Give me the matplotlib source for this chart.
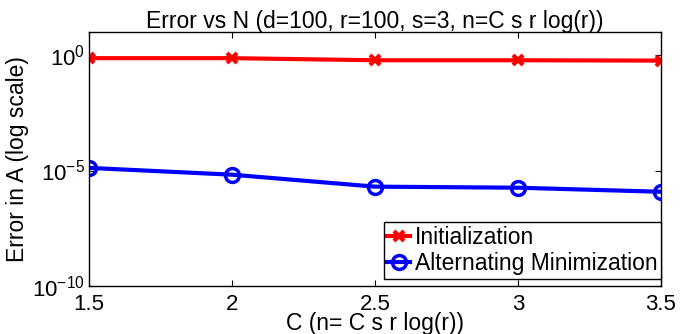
import numpy as np
import matplotlib
matplotlib.use("Agg")
import matplotlib.pyplot as plt

plt.rcParams["font.family"] = ["Liberation Sans", "DejaVu Sans"]
plt.rcParams["mathtext.fontset"] = "custom"
plt.rcParams["mathtext.rm"] = "Liberation Sans"
plt.rcParams["mathtext.it"] = "Liberation Sans:italic"

C_VALUES = [1.5, 2.0, 2.5, 3.0, 3.5]
INIT_ERR = [0.74, 0.74, 0.60, 0.60, 0.58]
ALTMIN_ERR = [1.3e-5, 6.6e-6, 2.0e-6, 1.8e-6, 1.2e-6]
Y_TICKS = [1e-10, 1e-5, 1e0]
Y_TICK_LABELS = [r"$10^{-10}$", r"$10^{-5}$", r"$10^{0}$"]

fig = plt.figure(figsize=(6.8, 3.34), dpi=100)
ax = fig.add_axes([0.131, 0.144, 0.841, 0.760])

ax.plot(C_VALUES, INIT_ERR, color="red", lw=3, marker="x", ms=7, mew=3,
        label="Initialization")
ax.plot(C_VALUES, ALTMIN_ERR, color="blue", lw=3, marker="o", ms=10, mew=2.5,
        mfc="none", label="Alternating Minimization")

ax.set_yscale("log")
ax.set_ylim(1e-10, 10)
ax.set_xlim(1.5, 3.5)
ax.set_xticks(C_VALUES)
ax.set_xticklabels(["1.5", "2", "2.5", "3", "3.5"])
ax.set_yticks(Y_TICKS)
ax.set_yticklabels(Y_TICK_LABELS)
ax.minorticks_off()
ax.tick_params(direction="in", top=True, right=True, labelsize=16, length=4)
ax.tick_params(axis="x", pad=6)
ax.tick_params(axis="y", pad=3)
for sp in ax.spines.values():
    sp.set_linewidth(1.0)

ax.set_title("Error vs N (d=100, r=100, s=3, n=C s r log(r))", fontsize=16.5, pad=3)
ax.set_xlabel("C (n= C s r log(r))", fontsize=16.5, labelpad=-2)
ax.set_ylabel("Error in A (log scale)", fontsize=16.5, labelpad=2)

leg = ax.legend(loc="lower right", bbox_to_anchor=(1.0, 0.028), fontsize=16.5,
                handlelength=1.0, handletextpad=0.2, borderpad=0.15,
                labelspacing=0.15, fancybox=False, framealpha=1,
                edgecolor="black", borderaxespad=0)
leg.get_frame().set_linewidth(1.0)

fig.savefig("out.png", dpi=100)
